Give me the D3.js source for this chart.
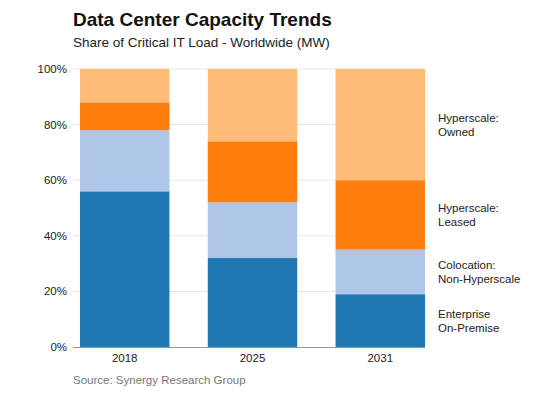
<!DOCTYPE html>
<html><head><meta charset="utf-8">
<script src="https://cdn.jsdelivr.net/npm/d3@7"></script>
<style>body{margin:0;background:#fff}svg{font-family:"Liberation Sans",Arial,sans-serif}</style>
</head><body><svg id="c" width="550" height="394"></svg>
<script>
const years = ["2018", "2025", "2031"];
const seriesNames = ["Enterprise On-Premise", "Colocation: Non-Hyperscale", "Hyperscale: Leased", "Hyperscale: Owned"];
const seriesLabels = [["Enterprise", "On-Premise"], ["Colocation:", "Non-Hyperscale"], ["Hyperscale:", "Leased"], ["Hyperscale:", "Owned"]];
const enterprise = [56, 32, 19];
const colocation = [22, 20, 16];
const hyperLeased = [10, 22, 25];
const hyperOwned = [12, 26, 40];
const colors = ["#1f77b4", "#aec7e8", "#ff7f0e", "#ffbb78"];
const yTicks = [0, 20, 40, 60, 80, 100];

const svg = d3.select("#c");
const rows = years.map((y, i) => ({year: y, s0: enterprise[i], s1: colocation[i], s2: hyperLeased[i], s3: hyperOwned[i]}));
const keys = ["s0", "s1", "s2", "s3"];
const stacked = d3.stack().keys(keys)(rows);

const x = d3.scaleBand().domain(years).range([80, 425]).paddingInner(0.3).paddingOuter(0);
const y = d3.scaleLinear().domain([0, 100]).range([347, 69]);
const fs = 11.5;

// gridlines
svg.append("g").selectAll("line").data(yTicks.filter(d => d > 0)).join("line")
  .attr("x1", 73).attr("x2", 425).attr("y1", d => y(d)).attr("y2", d => y(d))
  .attr("stroke", "#e6e6e6").attr("stroke-width", 1);

// bars
svg.append("g").selectAll("g").data(stacked).join("g")
  .attr("fill", (d, i) => colors[i])
  .selectAll("rect").data(d => d).join("rect")
  .attr("x", d => x(d.data.year))
  .attr("width", x.bandwidth())
  .attr("y", d => y(d[1]))
  .attr("height", d => y(d[0]) - y(d[1]));

// y axis labels
svg.append("g").selectAll("text").data(yTicks).join("text")
  .attr("x", 67).attr("y", d => y(d)).attr("dy", "0.35em")
  .attr("text-anchor", "end").attr("font-size", fs).attr("fill", "#222")
  .text(d => d + "%");

// baseline
svg.append("line").attr("x1", 73).attr("x2", 425).attr("y1", y(0) + 0.5).attr("y2", y(0) + 0.5)
  .attr("stroke", "#999").attr("stroke-width", 1);

// x labels
svg.append("g").selectAll("text").data(years).join("text")
  .attr("x", d => x(d) + x.bandwidth() / 2).attr("y", 362)
  .attr("text-anchor", "middle").attr("font-size", fs).attr("fill", "#222")
  .text(d => d);

// series labels at last bar
const last = years.length - 1;
stacked.forEach((s, i) => {
  const mid = y((s[last][0] + s[last][1]) / 2);
  const t = svg.append("text").attr("x", 438).attr("y", mid).attr("font-size", fs).attr("fill", "#222");
  seriesLabels[i].forEach((line, j) => {
    t.append("tspan").attr("x", 438).attr("y", mid + (j === 0 ? -7 : 7)).attr("dy", "0.35em").text(line);
  });
});

// title
svg.append("text").attr("x", 73).attr("y", 26).attr("font-size", 19).attr("font-weight", "bold").attr("fill", "#111")
  .text("Data Center Capacity Trends");
svg.append("text").attr("x", 73).attr("y", 47).attr("font-size", 13.5).attr("fill", "#222")
  .text("Share of Critical IT Load - Worldwide (MW)");
svg.append("text").attr("x", 73).attr("y", 384).attr("font-size", fs).attr("fill", "#777")
  .text("Source: Synergy Research Group");
</script></body></html>
